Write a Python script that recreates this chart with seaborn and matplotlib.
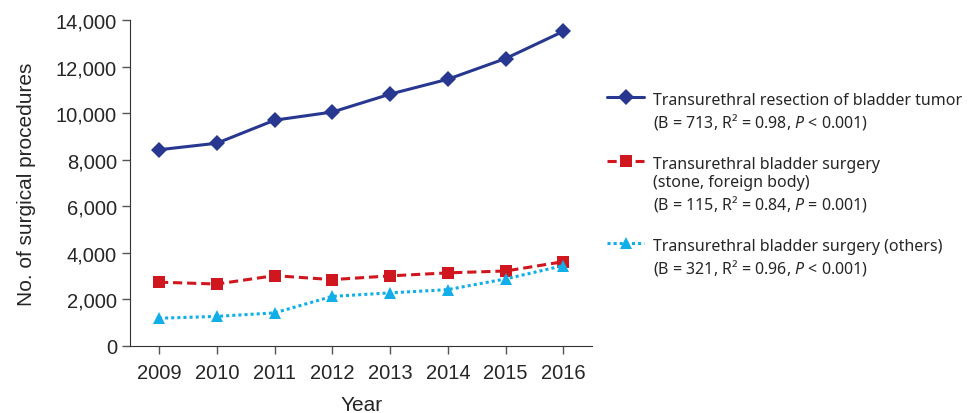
import matplotlib
matplotlib.use("Agg")
import matplotlib.pyplot as plt
import seaborn as sns
import pandas as pd

years = [2009, 2010, 2011, 2012, 2013, 2014, 2015, 2016]
turbt = [8430, 8710, 9700, 10050, 10820, 11460, 12350, 13520]
stone = [2740, 2660, 3020, 2850, 3010, 3140, 3220, 3620]
others = [1190, 1270, 1420, 2130, 2280, 2420, 2880, 3450]

labels = [
    "Transurethral resection of bladder tumor\n(B = 713, R\u00b2 = 0.98, $P$ < 0.001)",
    "Transurethral bladder surgery\n(stone, foreign body)\n(B = 115, R\u00b2 = 0.84, $P$ = 0.001)",
    "Transurethral bladder surgery (others)\n(B = 321, R\u00b2 = 0.96, $P$ < 0.001)",
]
colors = ["#283891", "#D0171F", "#11AEE8"]

sns.set_style("ticks")
plt.rcParams["font.family"] = ["Liberation Sans", "DejaVu Sans"]
plt.rcParams["mathtext.fontset"] = "custom"
plt.rcParams["mathtext.it"] = "Noto Sans:italic"
plt.rcParams["mathtext.rm"] = "Noto Sans"

fig = plt.figure(figsize=(9.71, 4.14), dpi=100)
ax = fig.add_axes([0.134, 0.162, 0.476, 0.787])

df = pd.DataFrame({"year": years, "a": turbt, "b": stone, "c": others})

sns.lineplot(data=df, x="year", y="a", ax=ax, color=colors[0], lw=2.2,
             marker="D", markersize=8, markeredgewidth=0, label=labels[0])
sns.lineplot(data=df, x="year", y="b", ax=ax, color=colors[1], lw=2.2,
             marker="s", markersize=8.5, markeredgewidth=0, label=labels[1])
ax.lines[-1].set_dashes([3, 1.6])
sns.lineplot(data=df, x="year", y="c", ax=ax, color=colors[2], lw=2.2,
             marker="^", markersize=9, markeredgewidth=0, label=labels[2])
ax.lines[-1].set_dashes([1, 1])

ax.set_xlim(2008.5, 2016.5)
ax.set_ylim(0, 14000)
ax.set_xticks(years)
ax.set_yticks(range(0, 14001, 2000))
ax.yaxis.set_major_formatter(matplotlib.ticker.StrMethodFormatter("{x:,.0f}"))
ax.tick_params(labelsize=14.5, length=6, width=1, color="#555555")
ax.tick_params(axis="x", pad=6)
ax.set_xlabel("Year", fontsize=15, labelpad=10)
ax.set_ylabel("No. of surgical procedures", fontsize=15, labelpad=14)
sns.despine(ax=ax)
for s in ["left", "bottom"]:
    ax.spines[s].set_color("#333333")

leg = ax.legend(loc="upper left", bbox_to_anchor=(1.019, 0.80), frameon=False,
                prop={"family": "Noto Sans", "size": 11.5},
                handlelength=2.3, handletextpad=0.55, labelspacing=1.55,
                borderaxespad=0)
# put each handle level with the first line of its label
for col in leg._legend_handle_box.get_children():
    for item in col.get_children():
        item.align = "top"

fig.savefig("out.png", dpi=100)
